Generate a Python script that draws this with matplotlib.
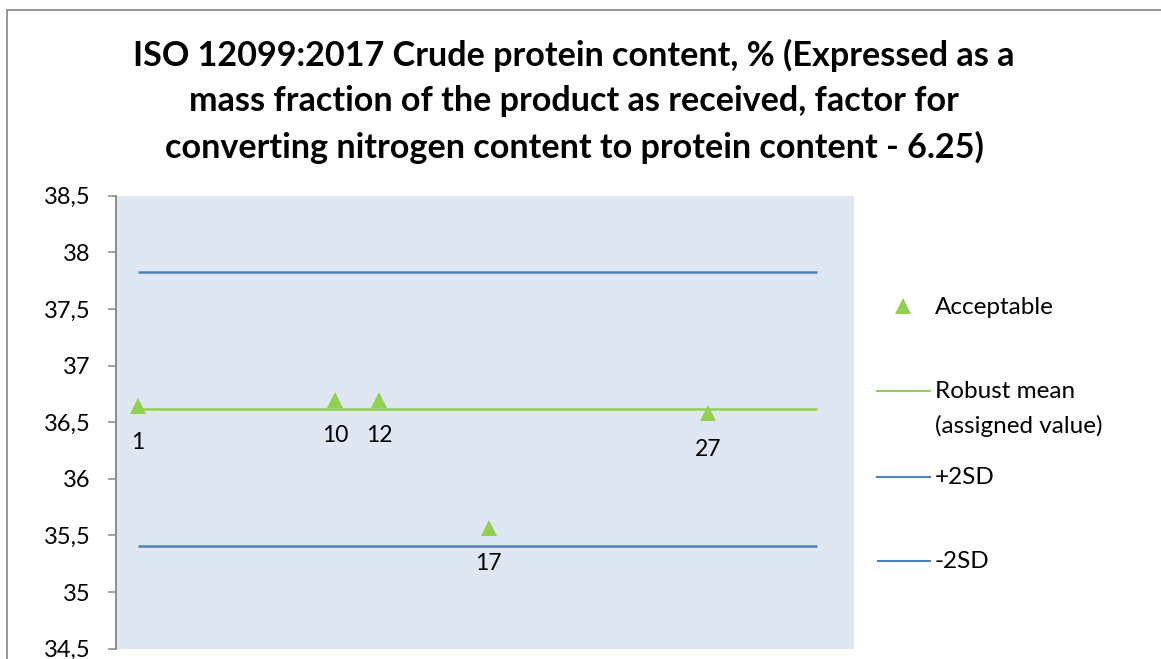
import matplotlib
matplotlib.use("Agg")
import matplotlib.pyplot as plt
from matplotlib.lines import Line2D
from matplotlib.patches import Rectangle

# ---- data ----
participants = [1, 10, 12, 17, 27]
results = [36.64, 36.70, 36.70, 35.57, 36.58]
line_x = [1, 32]
robust_mean = 36.615
plus_2sd = 37.827
minus_2sd = 35.403
y_ticks = [34.5, 35, 35.5, 36, 36.5, 37, 37.5, 38, 38.5]
y_tick_labels = ["34,5", "35", "35,5", "36", "36,5", "37", "37,5", "38", "38,5"]
title = ("ISO 12099:2017 Crude protein content, % (Expressed as a\n"
         "mass fraction of the product as received, factor for\n"
         "converting nitrogen content to protein content - 6.25)")
legend_labels = ["Acceptable", "Robust mean\n(assigned value)", "+2SD", "-2SD"]

GREEN = "#92D050"
BLUE = "#4F81BD"
BG = "#DFE7F2"
FONT = "Lato"

W, H = 1161, 659
fig = plt.figure(figsize=(W / 100, H / 100), dpi=100)
plt.rcParams["font.family"] = [FONT, "DejaVu Sans"]

def fx(px):
    return px / W

def fy(py):
    return 1 - py / H

# outer chart frame
fig.add_artist(Rectangle((fx(7), fy(700)), fx(1200) - fx(7), fy(10) - fy(700),
                         transform=fig.transFigure, fill=False,
                         edgecolor="#8C8C8C", linewidth=1.3, clip_on=False))

ax = fig.add_axes([fx(116.3), fy(648.7), fx(854) - fx(116.3), fy(195.7) - fy(648.7)])
ax.set_facecolor(BG)
ax.set_xlim(0, 33.67)
ax.set_ylim(34.5, 38.5)

ax.plot(line_x, [plus_2sd, plus_2sd], color=BLUE, lw=1.8, solid_capstyle="butt")
ax.plot(line_x, [minus_2sd, minus_2sd], color=BLUE, lw=1.8, solid_capstyle="butt")
ax.plot(line_x, [robust_mean, robust_mean], color=GREEN, lw=1.8, solid_capstyle="butt")
ax.plot(participants, results, linestyle="none", marker="^", markersize=11,
        color=GREEN, markeredgewidth=0, zorder=5)

for p, v in zip(participants, results):
    ax.annotate(str(p), (p, v), xytext=(0, -26), textcoords="offset points",
                ha="center", va="center", fontsize=16.5, color="black")

ax.set_yticks(y_ticks)
ax.set_yticklabels(y_tick_labels, fontsize=17)
ax.set_xticks([])
for s in ["top", "right", "bottom"]:
    ax.spines[s].set_visible(False)
ax.spines["left"].set_color("#868686")
ax.spines["left"].set_linewidth(1.3)
ax.tick_params(axis="y", length=5.6, width=1.1, color="#868686", pad=13)

# title
fig.text(fx(574), fy(39), title, ha="center", va="top", fontsize=24.6,
         fontweight="bold", linespacing=1.50)

# legend (manual, Excel-like layout)
LFS = 17.5
fig.add_artist(Line2D([fx(903)], [fy(306)], marker="^", markersize=11, color=GREEN,
                      markeredgewidth=0, linestyle="none", transform=fig.transFigure))
fig.text(fx(935), fy(314.3), legend_labels[0], ha="left", va="baseline", fontsize=LFS)
fig.add_artist(Line2D([fx(877), fx(930)], [fy(391), fy(391)], color=GREEN, lw=1.5,
                      transform=fig.transFigure))
fig.text(fx(935), fy(381), legend_labels[1], ha="left", va="top", fontsize=LFS,
         linespacing=1.72)
fig.add_artist(Line2D([fx(877), fx(930)], [fy(476.7), fy(476.7)], color=BLUE, lw=1.5,
                      transform=fig.transFigure))
fig.text(fx(935), fy(484), legend_labels[2], ha="left", va="baseline", fontsize=LFS)
fig.add_artist(Line2D([fx(878), fx(930)], [fy(561), fy(561)], color=BLUE, lw=1.5,
                      transform=fig.transFigure))
fig.text(fx(935), fy(568.3), legend_labels[3], ha="left", va="baseline", fontsize=LFS)

fig.savefig("out.png", dpi=100)
